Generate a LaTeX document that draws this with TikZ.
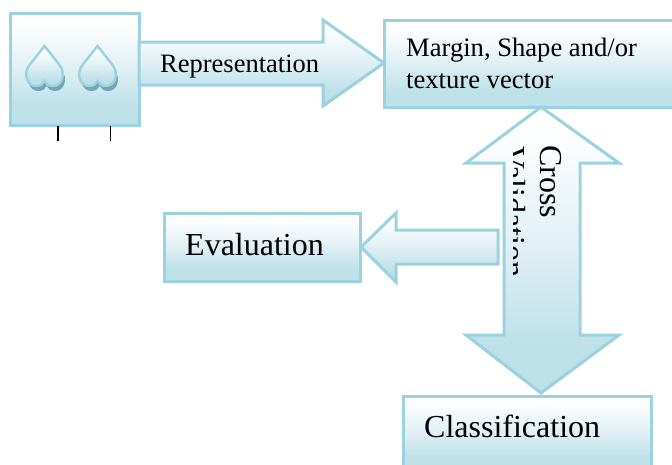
\documentclass[tikz,border=0pt]{standalone}
\usepackage{fontspec}
\setmainfont{Liberation Serif}
\definecolor{edgeblue}{HTML}{9AD3DF}
\definecolor{fillblue}{HTML}{BDE0E9}
\definecolor{midblue}{HTML}{DFEFF4}
\definecolor{paleblue}{HTML}{F8FBFD}
\definecolor{shadeblue}{HTML}{74A6B5}
\pgfdeclareverticalshading{softgrad}{100bp}{color(0bp)=(fillblue); color(33bp)=(fillblue); color(50bp)=(midblue); color(66bp)=(paleblue); color(72bp)=(white); color(100bp)=(white)}
\tikzset{
  blockshape/.style={draw=edgeblue,line width=3pt,line join=miter,shading=softgrad,shading angle=0},
  labeltext/.style={inner sep=0pt,anchor=base west,text=black},
}
\newcommand{\heartpath}[2]{(#1,#2) -- (#1+15,#2+19) .. controls (#1+21.5,#2+27) and (#1+18,#2+40) .. (#1+8.5,#2+40) .. controls (#1+4,#2+40) and (#1+1.5,#2+38) .. (#1,#2+35) .. controls (#1-1.5,#2+38) and (#1-4,#2+40) .. (#1-8.5,#2+40) .. controls (#1-18,#2+40) and (#1-21.5,#2+27) .. (#1-15,#2+19) -- cycle}
\begin{document}
\begin{tikzpicture}[x=1pt,y=-1pt]
\useasboundingbox (0,0) rectangle (672,464);
\fill[white] (0,0) rectangle (672,464);
% boxes
\path[blockshape] (10,13) rectangle (139,125);
\begin{scope}
\clip (0,0) rectangle (672,464);
\path[blockshape] (384,20) rectangle (690,107);
\path[blockshape] (403,396) rectangle (651,470);
\end{scope}
\path[blockshape] (164,213) rectangle (360,281);
% block arrows
\path[blockshape] (139,42) -- (323,42) -- (323,20) -- (384,63) -- (323,106) -- (323,85) -- (139,85) -- cycle;
\path[blockshape] (541,107) -- (619,163) -- (580,163) -- (580,335) -- (619,335) -- (541,393) -- (466,335) -- (504,335) -- (504,163) -- (466,163) -- cycle;
\path[blockshape] (498,230) -- (396,230) -- (396,213) -- (361,247) -- (396,282) -- (396,264) -- (498,264) -- cycle;
% hearts
\foreach \hx in {44.5,97.5} {
  \fill[shadeblue] \heartpath{\hx+2.2}{51};
  \path[draw=edgeblue,line width=2.4pt,shading=softgrad,shading angle=0] \heartpath{\hx}{46};
}
% ticks
\coordinate (t1a) at (58,126); \coordinate (t1b) at (58,141);
\coordinate (t2a) at (110.7,126); \coordinate (t2b) at (110.7,141);
\draw[line width=1.5pt,black] (t1a) -- (t1b);
\draw[line width=1.5pt,black] (t2a) -- (t2b);
% labels
\node[labeltext,font=\fontsize{26.5}{26.5}\selectfont] (rep) at (160,72) {Representation};
\node[labeltext,font=\fontsize{26.6}{26.6}\selectfont] (m1) at (406,56) {Margin, Shape and/or};
\node[labeltext,font=\fontsize{26.6}{26.6}\selectfont] (m2) at (406,88) {texture vector};
\node[labeltext,font=\fontsize{32}{32}\selectfont] (ev) at (185,255) {Evaluation};
\node[labeltext,font=\fontsize{32}{32}\selectfont] (cl) at (424,437) {Classification};
\node[labeltext,font=\fontsize{32}{32}\selectfont,rotate=-90] (cr) at (540,145) {Cross};
\begin{scope}
\clip (513,140) rectangle (540,278);
\node[labeltext,font=\fontsize{32}{32}\selectfont,rotate=-90] (va) at (503,146) {Validation};
\end{scope}
\end{tikzpicture}
\end{document}
